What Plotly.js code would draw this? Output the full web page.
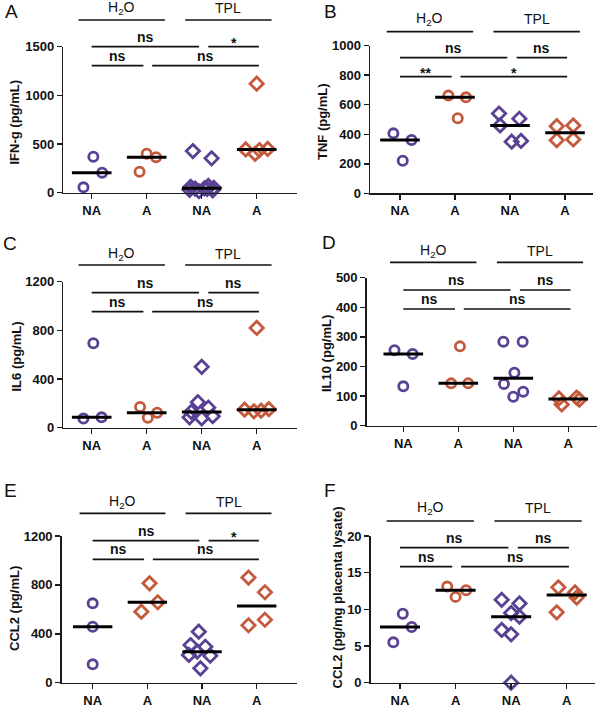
<!DOCTYPE html>
<html><head><meta charset="utf-8">
<script src="https://cdn.plot.ly/plotly-3.0.1.min.js"></script>
<style>html,body{margin:0;padding:0;background:#fff}#chart{width:599px;height:709px}</style>
</head><body><div id="chart"></div>
<script>
// ---------- DATA ----------
const categories = ['NA', 'A', 'NA', 'A'];
const groupLabels = ['H<sub>2</sub>O', 'TPL'];

// A: IFN-g (pg/mL)
const ifngH2oNA = [55, 206, 370];
const ifngH2oA  = [215, 365, 400];
const ifngTplNA = [15, 25, 30, 40, 42, 45, 50, 60, 70, 353, 428];
const ifngTplA  = [445, 400, 438, 450, 1120];
const ifngSig   = ['ns', '*', 'ns', 'ns'];

// B: TNF (pg/mL)
const tnfH2oNA = [406, 361, 221];
const tnfH2oA  = [662, 650, 508];
const tnfTplNA = [540, 505, 460, 350, 355];
const tnfTplA  = [455, 460, 360, 365];
const tnfSig   = ['ns', 'ns', '**', '*'];

// C: IL6 (pg/mL)
const il6H2oNA = [694, 75, 85];
const il6H2oA  = [170, 82, 123];
const il6TplNA = [500, 210, 165, 130, 85, 77, 95];
const il6TplA  = [820, 148, 135, 140, 152];
const il6Sig   = ['ns', 'ns', 'ns', 'ns'];

// D: IL10 (pg/mL)
const il10H2oNA = [255, 242, 133];
const il10H2oA  = [268, 143, 143];
const il10TplNA = [284, 284, 179, 141, 115, 98];
const il10TplA  = [92, 72, 95, 88];
const il10Sig   = ['ns', 'ns', 'ns', 'ns'];

// E: CCL2 (pg/mL)
const ccl2H2oNA = [649, 458, 150];
const ccl2H2oA  = [813, 581, 658];
const ccl2TplNA = [417, 308, 294, 254, 221, 227, 118];
const ccl2TplA  = [860, 740, 470, 515];
const ccl2Sig   = ['ns', '*', 'ns', 'ns'];

// F: CCL2 (pg/mg placenta lysate)
const ccl2pH2oNA = [5.5, 9.4, 7.6];
const ccl2pH2oA  = [13.1, 11.7, 12.6];
const ccl2pTplNA = [11.3, 10.8, 9.5, 9.0, 7.2, 6.6, 0];
const ccl2pTplA  = [13.0, 12.3, 11.6, 9.6];
const ccl2pSig   = ['ns', 'ns', 'ns', 'ns'];

// horizontal scatter offsets of the points (category units)
const ifngDx  = [[-0.15, 0.19, 0.03], [-0.13, 0.17, 0.0], [-0.05, 0.2, -0.22, 0.1, -0.12, 0.05, 0.22, -0.2, 0.12, 0.18, -0.16], [-0.2, -0.03, 0.05, 0.2, 0]];
const tnfDx   = [[-0.12, 0.21, 0.05], [-0.12, 0.2, 0.05], [-0.2, 0.17, -0.18, 0.03, 0.2], [-0.15, 0.15, -0.15, 0.15]];
const il6Dx   = [[0.03, -0.15, 0.18], [-0.12, 0.02, 0.19], [0, -0.07, 0.12, -0.19, -0.22, 0, 0.2], [0, -0.22, -0.05, 0.08, 0.22]];
const il10Dx  = [[-0.16, 0.17, 0], [0.03, -0.13, 0.18], [-0.18, 0.17, 0.02, -0.17, 0.18, 0], [-0.17, -0.12, 0.15, 0.2]];
const ccl2Dx  = [[0, 0, 0], [0.04, -0.11, 0.19], [-0.06, -0.21, 0.06, -0.09, 0.15, -0.24, -0.03], [-0.15, 0.15, -0.15, 0.15]];
const ccl2pDx = [[-0.12, 0.05, 0.21], [-0.15, 0, 0.19], [-0.17, 0.15, 0, 0.15, -0.17, 0, 0], [-0.15, 0.15, 0.18, -0.18]];

// ---------- STYLE / GEOMETRY ----------
const W = 599, H = 709;
const FONT = 'Liberation Sans, Arial, Helvetica, sans-serif';
const purple = '#5a4194', orange = '#c45a3c';
const colors = [purple, orange, purple, orange];
const symSize = {circle: 9.2, diamond: 10.2};

const panels = [
  {letter:'A', title:'IFN-g (pg/mL)', groups:[ifngH2oNA, ifngH2oA, ifngTplNA, ifngTplA], dx:ifngDx, sig:ifngSig, sym:['circle','circle','diamond','diamond'],
   g:{x0:63.3,x1:297,c0:91.7,c3:256.7,top:46.7,bot:192.7,ymax:1500,dtick:500,gY:20,gT:8.5,r1:46.7,r2:65.7,tx:14.5,ty:123,lx:11,ly:11.5}},
  {letter:'B', title:'TNF (pg/mL)', groups:[tnfH2oNA, tnfH2oA, tnfTplNA, tnfTplA], dx:tnfDx, sig:tnfSig, sym:['circle','circle','diamond','diamond'],
   g:{x0:370,x1:593,c0:400,c3:565,top:45.7,bot:193.3,ymax:1000,dtick:200,gY:31.7,gT:19,r1:57.7,r2:76.7,tx:323,ty:122,lx:330.5,ly:11.5}},
  {letter:'C', title:'IL6 (pg/mL)', groups:[il6H2oNA, il6H2oA, il6TplNA, il6TplA], dx:il6Dx, sig:il6Sig, sym:['circle','circle','diamond','diamond'],
   g:{x0:63.3,x1:297,c0:91.7,c3:256.7,top:281.7,bot:427.7,ymax:1200,dtick:400,gY:265,gT:253.5,r1:292.7,r2:311.7,tx:15.5,ty:357,lx:10,ly:243.3}},
  {letter:'D', title:'IL10 (pg/mL)', groups:[il10H2oNA, il10H2oA, il10TplNA, il10TplA], dx:il10Dx, sig:il10Sig, sym:['circle','circle','circle','diamond'],
   g:{x0:366.7,x1:596.7,c0:403.3,c3:568.3,top:277.7,bot:425.7,ymax:500,dtick:100,gY:262.3,gT:251,r1:290,r2:309,tx:326,ty:354,lx:329,ly:242.5}},
  {letter:'E', title:'CCL2 (pg/mL)', groups:[ccl2H2oNA, ccl2H2oA, ccl2TplNA, ccl2TplA], dx:ccl2Dx, sig:ccl2Sig, sym:['circle','diamond','diamond','diamond'],
   g:{x0:61.7,x1:297,c0:92.7,c3:256.7,top:536,bot:682.7,ymax:1200,dtick:400,gY:513.3,gT:501.7,r1:540.7,r2:559.3,tx:14,ty:609,lx:10,ly:490.5}},
  {letter:'F', title:'CCL2 (pg/mg placenta lysate)', groups:[ccl2pH2oNA, ccl2pH2oA, ccl2pTplNA, ccl2pTplA], dx:ccl2pDx, sig:ccl2pSig, sym:['circle','circle','diamond','diamond'],
   g:{x0:370.7,x1:595,c0:400,c3:566.7,top:536,bot:682.7,ymax:20,dtick:5,gY:521,gT:508,r1:547.7,r2:566.7,tx:336.5,ty:598,lx:330,ly:490.5}}
];

// significance bars: drawn spans in category units, and row (1 = upper, 2 = lower)
const barSpans = [[0, 1.95, 1], [2.12, 3.04, 1], [0, 0.94, 2], [1.1, 3.04, 2]];
const groupSpans = [[-0.24, 1.33], [1.70, 3.27]];

function median(a) {
  const s = [...a].sort((p, q) => p - q), n = s.length;
  return n % 2 ? s[(n - 1) / 2] : (s[n / 2 - 1] + s[n / 2]) / 2;
}
const py = v => 1 - v / H;
const px = v => v / W;

const axisStyle = {
  showline: true, linecolor: '#1a1a1a', linewidth: 1.5,
  ticks: 'outside', ticklen: 5, tickwidth: 1.5, tickcolor: '#1a1a1a',
  showgrid: false, zeroline: false, fixedrange: true,
  tickfont: {family: FONT, size: 13, color: '#111', weight: 700}
};

const data = [];
const layout = {
  width: W, height: H, margin: {l: 0, r: 0, t: 0, b: 0},
  paper_bgcolor: '#fff', plot_bgcolor: 'rgba(0,0,0,0)', showlegend: false,
  font: {family: FONT, color: '#111'}, shapes: [], annotations: []
};

panels.forEach((p, i) => {
  const g = p.g, n = i + 1;
  const xa = 'x' + (i ? n : ''), ya = 'y' + (i ? n : '');
  const sp = (g.c3 - g.c0) / 3;
  layout['xaxis' + (i ? n : '')] = Object.assign({}, axisStyle, {
    domain: [px(g.x0), px(g.x1)], range: [(g.x0 - g.c0) / sp, (g.x1 - g.c0) / sp], anchor: ya,
    tickmode: 'array', tickvals: [0, 1, 2, 3], ticktext: categories
  });
  layout['yaxis' + (i ? n : '')] = Object.assign({}, axisStyle, {
    domain: [py(g.bot), py(g.top)], range: [0, g.ymax], anchor: xa, tick0: 0, dtick: g.dtick
  });
  p.groups.forEach((vals, k) => {
    data.push({
      type: 'scatter', mode: 'markers', xaxis: xa, yaxis: ya, cliponaxis: false,
      x: vals.map((v, j) => k + p.dx[k][j]), y: vals, hoverinfo: 'y',
      marker: {symbol: p.sym[k] + '-open', size: symSize[p.sym[k]], color: colors[k], line: {width: 2.8, color: colors[k]}}
    });
  });
  p.groups.forEach((vals, k) => {
    const m = median(vals);
    data.push({type: 'scatter', mode: 'lines', xaxis: xa, yaxis: ya, cliponaxis: false, hoverinfo: 'skip',
      x: [k - 0.36, k + 0.36], y: [m, m], line: {color: '#000', width: 3}});
  });
  // group lines + labels
  groupSpans.forEach((s, k) => {
    layout.shapes.push({type: 'line', xref: xa, yref: 'paper', x0: s[0], x1: s[1], y0: py(g.gY), y1: py(g.gY), line: {color: '#111', width: 1.7}});
    layout.annotations.push({xref: xa, yref: 'paper', x: (s[0] + s[1]) / 2, y: py(g.gT), xanchor: 'center', yanchor: 'middle',
      text: groupLabels[k], showarrow: false, font: {family: FONT, size: 14, color: '#111'}});
  });
  // significance bars
  barSpans.forEach((s, k) => {
    const yb = s[2] === 1 ? g.r1 : g.r2;
    layout.shapes.push({type: 'line', xref: xa, yref: 'paper', x0: s[0], x1: s[1], y0: py(yb), y1: py(yb), line: {color: '#111', width: 1.7}});
    const isStar = p.sig[k].indexOf('*') >= 0;
    layout.annotations.push({xref: xa, yref: 'paper', x: (s[0] + s[1]) / 2, y: py(yb - (isStar ? 4 : 10)), xanchor: 'center', yanchor: 'middle',
      text: p.sig[k], showarrow: false, font: {family: FONT, size: 14, color: '#111', weight: 700}});
  });
  // y title
  layout.annotations.push({xref: 'paper', yref: 'paper', x: px(g.tx), y: py(g.ty), xanchor: 'center', yanchor: 'middle',
    textangle: -90, text: p.title, showarrow: false, font: {family: FONT, size: 13, color: '#111', weight: 700}});
  // panel letter
  layout.annotations.push({xref: 'paper', yref: 'paper', x: px(g.lx), y: py(g.ly), xanchor: 'center', yanchor: 'middle',
    text: p.letter, showarrow: false, font: {family: FONT, size: 19, color: '#111'}});
});

Plotly.newPlot('chart', data, layout, {staticPlot: true, displayModeBar: false});
</script>
</body></html>
